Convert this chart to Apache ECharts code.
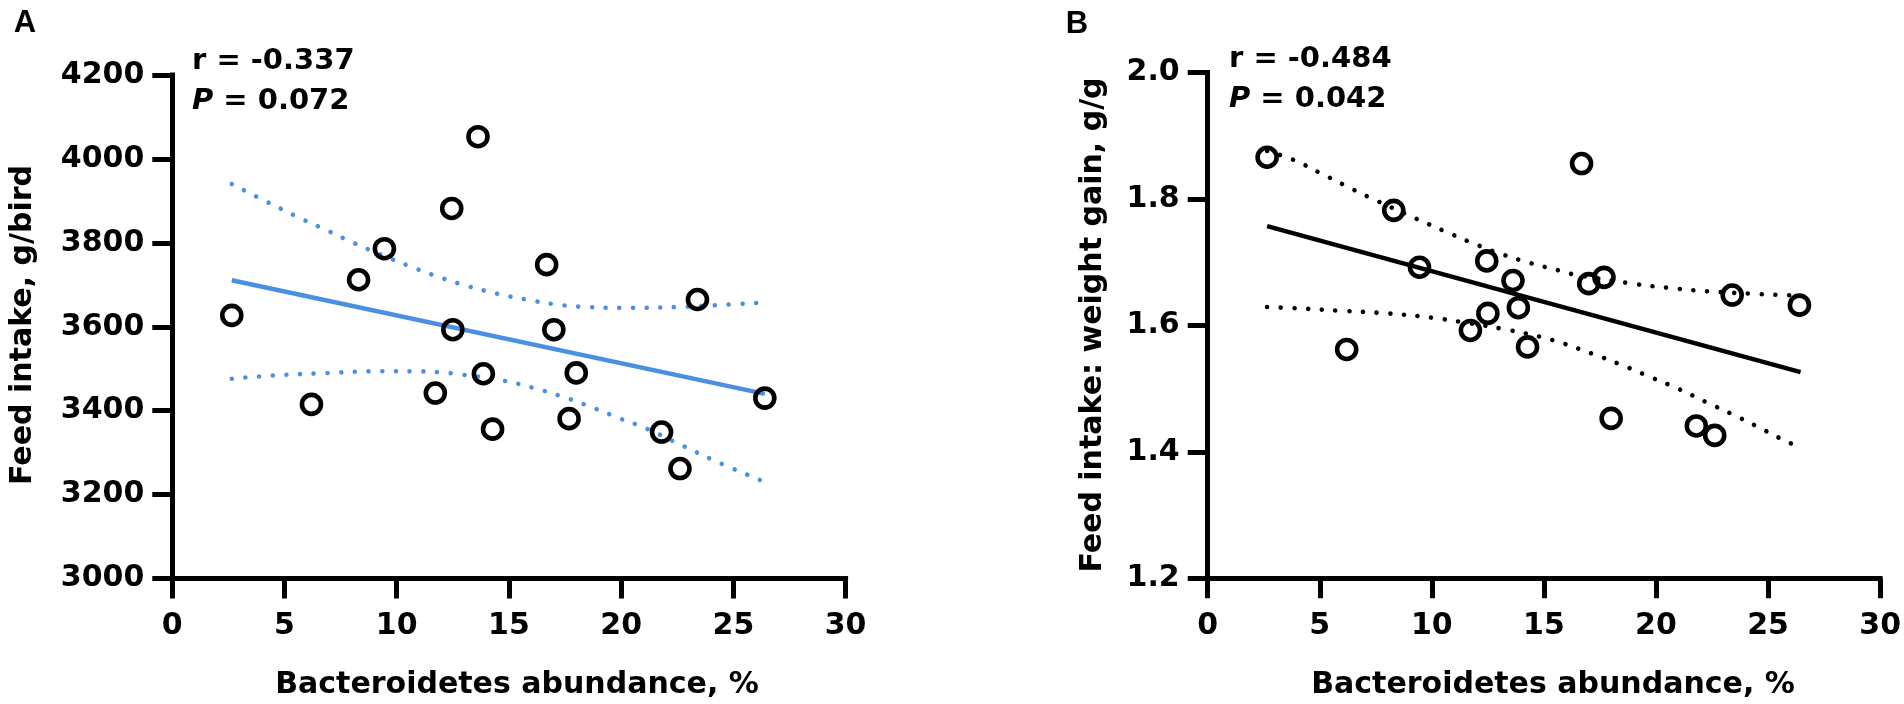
<!DOCTYPE html>
<html>
<head>
<meta charset="utf-8">
<script src="https://cdn.jsdelivr.net/npm/echarts@6/dist/echarts.min.js"></script>
<style>
html,body{margin:0;padding:0;background:#fff;}
#chart{width:1904px;height:704px;}
</style>
</head>
<body>
<div id="chart"></div>
<script>
// Shared x values: Bacteroidetes abundance, %
const abundance = [2.65, 6.2, 8.3, 9.45, 11.72, 12.45, 12.5, 13.62, 13.86, 14.27, 16.68, 17.0, 17.68, 18.0, 21.8, 22.62, 23.4, 26.4];
// Panel A: feed intake, g/bird
const feedIntake = [3627, 3415, 3712, 3786, 3442, 3882, 3593, 4053, 3488, 3356, 3748, 3593, 3381, 3490, 3349, 3262, 3665, 3430];
// Panel B: feed intake : weight gain, g/g
const feedGain = [1.866, 1.562, 1.782, 1.692, 1.592, 1.702, 1.619, 1.671, 1.628, 1.566, 1.856, 1.666, 1.676, 1.453, 1.441, 1.426, 1.648, 1.632];

// Regression lines
const fitA = [[2.65, 3711], [26.4, 3440]];
const fitB = [[2.65, 1.757], [26.45, 1.526]];

// 95% confidence bands
const ciUpperA = [[2.65,3940],[4.43,3892],[5.65,3860],[6.88,3830],[8.07,3800],[9.3,3772],[10.59,3744],[11.85,3719],[13.15,3697],[14.46,3679],[15.76,3665],[17.1,3653],[18.47,3647],[20.47,3645],[22.48,3647],[24.5,3652],[26.4,3658]];
const ciLowerA = [[2.65,3476],[4.5,3484],[6.6,3489],[9.33,3494],[10.7,3494],[12.05,3491],[12.75,3487],[14.72,3472],[16.04,3455],[17.35,3434],[18.61,3410],[19.87,3383],[21.14,3357],[22.33,3327],[24.2,3280],[26.4,3230]];
const ciUpperB = [[2.65,1.876],[3.81,1.862],[5.08,1.840],[6.26,1.819],[7.49,1.798],[9.3,1.769],[10.57,1.749],[11.83,1.730],[13.09,1.713],[14.35,1.699],[15.66,1.687],[16.28,1.681],[18.95,1.666],[20.95,1.658],[22.29,1.654],[24.32,1.650],[25.66,1.648],[26.4,1.647]];
const ciLowerB = [[2.65,1.629],[3.99,1.627],[6.01,1.623],[8.04,1.619],[10.05,1.612],[11.38,1.605],[13.38,1.593],[15.36,1.577],[17.25,1.554],[18.5,1.537],[19.77,1.518],[20.98,1.500],[22.22,1.479],[23.43,1.459],[24.63,1.438],[25.85,1.416],[26.4,1.408]];

const xTicks = {min: 0, max: 30, interval: 5};
const yTicksA = {min: 3000, max: 4200, interval: 200};
const yTicksB = {min: 1.2, max: 2.0, interval: 0.2};

const statsA = {r: 'r = -0.337', p: ' = 0.072'};
const statsB = {r: 'r = -0.484', p: ' = 0.042'};

const FONT = 'DejaVu Sans';
const blue = '#4a90e2';

function pairs(xs, ys){ return xs.map((x,i)=>[x, ys[i]]); }

const labelStyle = {fontFamily: FONT, fontWeight: 'bold', fontSize: 30, color: '#000'};
const lineAxis = {show: true, lineStyle: {color: '#000', width: 5, cap: 'square'}};
const tickAxis = {show: true, length: 20, lineStyle: {color: '#000', width: 5}};

function xAxisFor(gi){
  return {type: 'value', gridIndex: gi, min: xTicks.min, max: xTicks.max, interval: xTicks.interval,
    axisLine: lineAxis, axisTick: tickAxis, splitLine: {show: false},
    axisLabel: Object.assign({margin: 33}, labelStyle)};
}
function yAxisFor(gi, t, fmt){
  return {type: 'value', gridIndex: gi, min: t.min, max: t.max, interval: t.interval,
    axisLine: lineAxis, axisTick: tickAxis, splitLine: {show: false},
    axisLabel: Object.assign({margin: 28, formatter: fmt}, labelStyle)};
}

function scatter(gi, data){
  return {type: 'scatter', xAxisIndex: gi, yAxisIndex: gi, data: data, symbol: 'circle', symbolSize: 19, z: 5,
    itemStyle: {color: 'rgba(0,0,0,0)', borderColor: '#000', borderWidth: 4.6, opacity: 1}, silent: true};
}
function fitLine(gi, data, color){
  return {type: 'line', xAxisIndex: gi, yAxisIndex: gi, data: data, symbol: 'none', z: 3, silent: true,
    lineStyle: {color: color, width: 4.5}};
}
function ciLine(gi, data, color){
  return {type: 'line', xAxisIndex: gi, yAxisIndex: gi, data: data, symbol: 'none', smooth: 0.4, z: 4, silent: true,
    lineStyle: {color: color, width: 4.6, type: [0.001, 13.7], cap: 'round'}};
}

function statText(x, y, txt){
  return {type: 'text', x: x, y: y, silent: true, style: {text: txt, fontFamily: FONT, fontWeight: 'bold', fontSize: 29, fill: '#000', align: 'left', verticalAlign: 'middle'}};
}
function pText(x, y, txt){
  return {type: 'text', x: x, y: y, silent: true, style: {text: '{i|P}' + txt, fontFamily: FONT, fontWeight: 'bold', fontSize: 29, fill: '#000', align: 'left', verticalAlign: 'middle',
    rich: {i: {fontFamily: FONT, fontWeight: 'bold', fontStyle: 'italic', fontSize: 29, fill: '#000'}}}};
}
function titleText(x, y, txt, rot){
  return {type: 'text', x: x, y: y, rotation: rot || 0, silent: true, style: {text: txt, fontFamily: FONT, fontWeight: 'bold', fontSize: 30, fill: '#000', align: 'center', verticalAlign: 'middle'}};
}

const chart = echarts.init(document.getElementById('chart'), null, {renderer: 'canvas'});
chart.setOption({
  animation: false,
  backgroundColor: '#fff',
  grid: [
    {left: 172.3, top: 75, width: 673.3, height: 503.5},
    {left: 1207.7, top: 72.5, width: 673.8, height: 505.8}
  ],
  xAxis: [xAxisFor(0), xAxisFor(1)],
  yAxis: [
    yAxisFor(0, yTicksA, v => String(v)),
    yAxisFor(1, yTicksB, v => v.toFixed(1))
  ],
  series: [
    ciLine(0, ciUpperA, blue),
    ciLine(0, ciLowerA, blue),
    fitLine(0, fitA, blue),
    scatter(0, pairs(abundance, feedIntake)),
    ciLine(1, ciUpperB, '#000'),
    ciLine(1, ciLowerB, '#000'),
    fitLine(1, fitB, '#000'),
    scatter(1, pairs(abundance, feedGain))
  ],
  graphic: [
    {type: 'text', x: 25, y: 23, silent: true, style: {text: 'A', fontFamily: 'Liberation Sans', fontWeight: 'bold', fontSize: 31, fill: '#000', align: 'center', verticalAlign: 'middle'}},
    {type: 'text', x: 1077, y: 24, silent: true, style: {text: 'B', fontFamily: 'Liberation Sans', fontWeight: 'bold', fontSize: 31, fill: '#000', align: 'center', verticalAlign: 'middle'}},
    statText(192, 61.5, statsA.r),
    pText(192, 101.5, statsA.p),
    statText(1229, 59, statsB.r),
    pText(1229, 99, statsB.p),
    titleText(23, 325, 'Feed intake, g/bird', Math.PI / 2),
    titleText(1093, 325, 'Feed intake: weight gain, g/g', Math.PI / 2),
    titleText(517, 685, 'Bacteroidetes abundance, %'),
    titleText(1553, 685, 'Bacteroidetes abundance, %')
  ]
});
</script>
</body>
</html>
